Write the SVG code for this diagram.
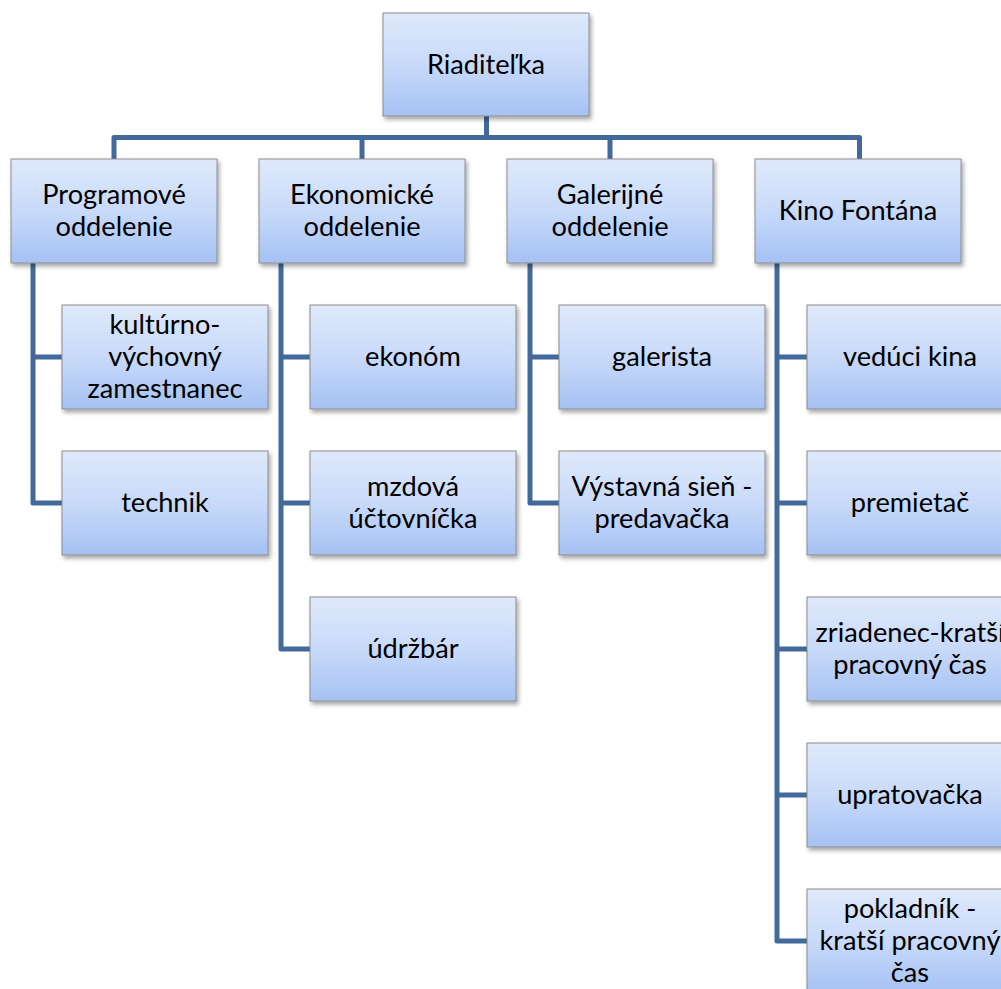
<svg xmlns="http://www.w3.org/2000/svg" width="1001" height="989" viewBox="0 0 1001 989">
<style>
.box{fill:url(#g);stroke:#8c8c8c;stroke-width:1;filter:url(#sh)}
.t{font-family:Lato,"Open Sans",sans-serif;font-size:27.2px;fill:#000;text-anchor:middle}
.c{fill:none;stroke:#43689a;stroke-width:5;stroke-linejoin:round;stroke-linecap:butt}
</style>
<defs>
<linearGradient id="g" x1="0" y1="0" x2="0" y2="1">
<stop offset="0" stop-color="#dfe9fb"/>
<stop offset="0.5" stop-color="#c8daf9"/>
<stop offset="1" stop-color="#a5c1f3"/>
</linearGradient>
<filter id="sh" x="-10%" y="-10%" width="130%" height="130%">
<feDropShadow dx="2" dy="3" stdDeviation="2" flood-color="#000" flood-opacity="0.35"/>
</filter>
</defs>
<rect width="1001" height="989" fill="#fff"/>
<g id="connectors">
<path class="c" d="M486.5,116 V137.5 M114,159 V137.5 H859.5 V159 M362,137.5 V159 M610,137.5 V159"/>
<path class="c" d="M33,263 V503 H62 M33,357 H62"/>
<path class="c" d="M281,263 V649 H310 M281,357 H310 M281,503 H310"/>
<path class="c" d="M530,263 V503 H559 M530,357 H559"/>
<path class="c" d="M777,263 V941 H807 M777,357 H807 M777,503 H807 M777,649 H807 M777,795 H807"/>
</g>
<g id="n-riaditelka"><rect class="box" x="383" y="13" width="206" height="103"/><text class="t" x="486" y="74">Riaditeľka</text></g>
<g id="n-programove"><rect class="box" x="11" y="159" width="206" height="104"/><text class="t" x="114" y="204">Programové</text><text class="t" x="114" y="236">oddelenie</text></g>
<g id="n-ekonomicke"><rect class="box" x="259" y="159" width="206" height="104"/><text class="t" x="362" y="204">Ekonomické</text><text class="t" x="362" y="236">oddelenie</text></g>
<g id="n-galerijne"><rect class="box" x="507" y="159" width="206" height="104"/><text class="t" x="610" y="204">Galerijné</text><text class="t" x="610" y="236">oddelenie</text></g>
<g id="n-kino"><rect class="box" x="755" y="159" width="206" height="104"/><text class="t" x="858" y="220">Kino Fontána</text></g>
<g id="n-kulturno"><rect class="box" x="62" y="305" width="206" height="104"/><text class="t" x="165" y="334">kultúrno-</text><text class="t" x="165" y="366">výchovný</text><text class="t" x="165" y="398">zamestnanec</text></g>
<g id="n-technik"><rect class="box" x="62" y="451" width="206" height="104"/><text class="t" x="165" y="512">technik</text></g>
<g id="n-ekonom"><rect class="box" x="310" y="305" width="206" height="104"/><text class="t" x="413" y="366">ekonóm</text></g>
<g id="n-mzdova"><rect class="box" x="310" y="451" width="206" height="104"/><text class="t" x="413" y="496">mzdová</text><text class="t" x="413" y="528">účtovníčka</text></g>
<g id="n-udrzbar"><rect class="box" x="310" y="597" width="206" height="104"/><text class="t" x="413" y="658">údržbár</text></g>
<g id="n-galerista"><rect class="box" x="559" y="305" width="206" height="104"/><text class="t" x="662" y="366">galerista</text></g>
<g id="n-vystavna"><rect class="box" x="559" y="451" width="206" height="104"/><text class="t" x="662" y="496">Výstavná sieň -</text><text class="t" x="662" y="528">predavačka</text></g>
<g id="n-veduci"><rect class="box" x="807" y="305" width="206" height="104"/><text class="t" x="910" y="366">vedúci kina</text></g>
<g id="n-premietac"><rect class="box" x="807" y="451" width="206" height="104"/><text class="t" x="910" y="512">premietač</text></g>
<g id="n-zriadenec"><rect class="box" x="807" y="597" width="206" height="104"/><text class="t" x="910" y="642">zriadenec-kratší</text><text class="t" x="910" y="674">pracovný čas</text></g>
<g id="n-upratovacka"><rect class="box" x="807" y="743" width="206" height="104"/><text class="t" x="910" y="804">upratovačka</text></g>
<g id="n-pokladnik"><rect class="box" x="807" y="889" width="206" height="104"/><text class="t" x="910" y="918">pokladník -</text><text class="t" x="910" y="950">kratší pracovný</text><text class="t" x="910" y="982">čas</text></g>
</svg>
